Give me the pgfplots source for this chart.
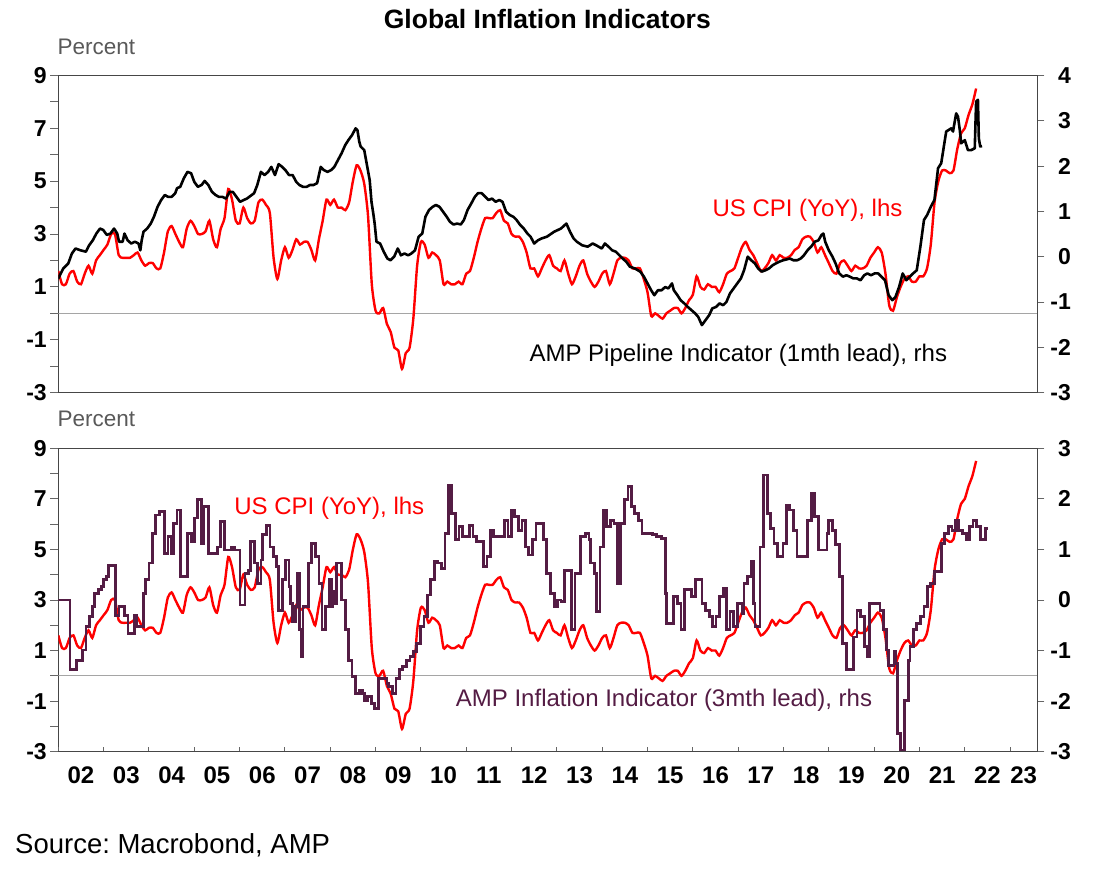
\documentclass[border=0pt]{standalone}
\usepackage{fontspec}
\setmainfont{Liberation Sans}
\usepackage{pgfplots}
\usepackage{pgfplotstable}
\pgfplotsset{compat=1.18}
\frenchspacing
\definecolor{cpired}{RGB}{255,0,0}
\definecolor{amppurple}{RGB}{84,28,68}
\definecolor{zerogray}{RGB}{165,165,165}
\definecolor{axgray}{RGB}{70,70,70}
\definecolor{pctgray}{RGB}{89,89,89}

\pgfplotstableread{
x y
2002.000 1.6
2002.083 1.1
2002.167 1.1
2002.250 1.5
2002.333 1.6
2002.417 1.2
2002.500 1.1
2002.583 1.5
2002.667 1.8
2002.750 1.5
2002.833 2.0
2002.917 2.2
2003.000 2.4
2003.083 2.6
2003.167 3.0
2003.250 3.0
2003.333 2.2
2003.417 2.1
2003.500 2.1
2003.583 2.1
2003.667 2.2
2003.750 2.3
2003.833 2.0
2003.917 1.8
2004.000 1.9
2004.083 1.9
2004.167 1.7
2004.250 1.7
2004.333 2.3
2004.417 3.1
2004.500 3.3
2004.583 3.0
2004.667 2.7
2004.750 2.5
2004.833 3.2
2004.917 3.5
2005.000 3.3
2005.083 3.0
2005.167 3.0
2005.250 3.1
2005.333 3.5
2005.417 2.8
2005.500 2.5
2005.583 3.2
2005.667 3.6
2005.750 4.7
2005.833 4.3
2005.917 3.5
2006.000 3.4
2006.083 4.0
2006.167 3.6
2006.250 3.4
2006.333 3.5
2006.417 4.2
2006.500 4.3
2006.583 4.1
2006.667 3.8
2006.750 2.1
2006.833 1.3
2006.917 2.0
2007.000 2.5
2007.083 2.1
2007.167 2.4
2007.250 2.8
2007.333 2.6
2007.417 2.7
2007.500 2.7
2007.583 2.4
2007.667 2.0
2007.750 2.8
2007.833 3.5
2007.917 4.3
2008.000 4.1
2008.083 4.3
2008.167 4.0
2008.250 4.0
2008.333 3.9
2008.417 4.2
2008.500 5.0
2008.583 5.6
2008.667 5.4
2008.750 4.9
2008.833 3.7
2008.917 1.1
2009.000 0.1
2009.083 0.0
2009.167 0.2
2009.250 -0.4
2009.333 -0.7
2009.417 -1.3
2009.500 -1.4
2009.583 -2.1
2009.667 -1.5
2009.750 -1.3
2009.833 -0.2
2009.917 1.8
2010.000 2.7
2010.083 2.6
2010.167 2.1
2010.250 2.3
2010.333 2.2
2010.417 2.0
2010.500 1.1
2010.583 1.2
2010.667 1.1
2010.750 1.1
2010.833 1.2
2010.917 1.1
2011.000 1.5
2011.083 1.6
2011.167 2.1
2011.250 2.7
2011.333 3.2
2011.417 3.6
2011.500 3.6
2011.583 3.6
2011.667 3.8
2011.750 3.9
2011.833 3.5
2011.917 3.4
2012.000 3.0
2012.083 2.9
2012.167 2.9
2012.250 2.7
2012.333 2.3
2012.417 1.7
2012.500 1.7
2012.583 1.4
2012.667 1.7
2012.750 2.0
2012.833 2.2
2012.917 1.8
2013.000 1.7
2013.083 1.6
2013.167 2.0
2013.250 1.5
2013.333 1.1
2013.417 1.4
2013.500 1.8
2013.583 2.0
2013.667 1.5
2013.750 1.2
2013.833 1.0
2013.917 1.2
2014.000 1.5
2014.083 1.6
2014.167 1.1
2014.250 1.5
2014.333 2.0
2014.417 2.1
2014.500 2.1
2014.583 2.0
2014.667 1.7
2014.750 1.7
2014.833 1.7
2014.917 1.3
2015.000 0.8
2015.083 -0.1
2015.167 0.0
2015.250 -0.1
2015.333 -0.2
2015.417 0.0
2015.500 0.1
2015.583 0.2
2015.667 0.2
2015.750 0.0
2015.833 0.2
2015.917 0.5
2016.000 0.7
2016.083 1.4
2016.167 1.0
2016.250 0.9
2016.333 1.1
2016.417 1.0
2016.500 1.0
2016.583 0.8
2016.667 1.1
2016.750 1.5
2016.833 1.6
2016.917 1.7
2017.000 2.1
2017.083 2.5
2017.167 2.7
2017.250 2.4
2017.333 2.2
2017.417 1.9
2017.500 1.6
2017.583 1.7
2017.667 1.9
2017.750 2.2
2017.833 2.0
2017.917 2.2
2018.000 2.1
2018.083 2.1
2018.167 2.2
2018.250 2.4
2018.333 2.5
2018.417 2.8
2018.500 2.9
2018.583 2.9
2018.667 2.7
2018.750 2.3
2018.833 2.5
2018.917 2.2
2019.000 1.9
2019.083 1.6
2019.167 1.5
2019.250 1.9
2019.333 2.0
2019.417 1.8
2019.500 1.6
2019.583 1.8
2019.667 1.7
2019.750 1.7
2019.833 1.8
2019.917 2.1
2020.000 2.3
2020.083 2.5
2020.167 2.3
2020.250 1.5
2020.333 0.3
2020.417 0.1
2020.500 0.6
2020.583 1.0
2020.667 1.3
2020.750 1.4
2020.833 1.2
2020.917 1.2
2021.000 1.4
2021.083 1.4
2021.167 1.7
2021.250 2.6
2021.333 4.2
2021.417 5.0
2021.500 5.4
2021.583 5.4
2021.667 5.3
2021.750 5.4
2021.833 6.2
2021.917 6.8
2022.000 7.0
2022.083 7.5
2022.167 7.9
2022.250 8.5
}\cpidata

\pgfplotstableread{
x y
2002.00 -0.48
2002.11 -0.26
2002.22 -0.15
2002.30 0.07
2002.38 0.18
2002.49 0.14
2002.61 0.11
2002.68 0.25
2002.76 0.36
2002.84 0.51
2002.92 0.62
2002.99 0.59
2003.07 0.48
2003.15 0.51
2003.23 0.62
2003.30 0.51
2003.34 0.33
2003.42 0.33
2003.46 0.51
2003.53 0.36
2003.61 0.29
2003.69 0.33
2003.77 0.29
2003.81 0.14
2003.84 0.36
2003.88 0.55
2003.96 0.62
2004.04 0.73
2004.11 0.88
2004.19 1.10
2004.27 1.25
2004.35 1.36
2004.42 1.32
2004.50 1.32
2004.58 1.40
2004.62 1.51
2004.69 1.54
2004.77 1.73
2004.85 1.87
2004.93 1.84
2005.00 1.65
2005.08 1.54
2005.16 1.58
2005.23 1.67
2005.31 1.58
2005.39 1.43
2005.47 1.36
2005.54 1.32
2005.62 1.32
2005.70 1.28
2005.78 1.43
2005.85 1.43
2005.93 1.32
2006.01 1.21
2006.09 1.25
2006.16 1.28
2006.24 1.34
2006.32 1.40
2006.39 1.58
2006.47 1.87
2006.55 1.80
2006.63 1.87
2006.70 1.98
2006.78 1.80
2006.86 2.04
2006.94 1.98
2007.01 1.91
2007.09 1.80
2007.17 1.80
2007.25 1.65
2007.32 1.58
2007.40 1.54
2007.48 1.54
2007.55 1.58
2007.63 1.58
2007.71 1.62
2007.79 1.98
2007.86 1.91
2007.94 1.87
2008.02 1.91
2008.09 1.98
2008.17 2.13
2008.25 2.28
2008.33 2.46
2008.40 2.57
2008.48 2.68
2008.56 2.83
2008.60 2.79
2008.64 2.54
2008.67 2.43
2008.75 2.35
2008.79 2.13
2008.87 1.69
2008.91 1.21
2008.95 0.95
2008.98 0.73
2009.02 0.33
2009.10 0.29
2009.18 0.11
2009.26 -0.04
2009.33 -0.08
2009.41 0.00
2009.49 0.18
2009.56 0.03
2009.64 0.07
2009.72 0.03
2009.79 0.07
2009.87 0.14
2009.95 0.44
2010.03 0.51
2010.10 0.88
2010.18 1.03
2010.26 1.10
2010.33 1.14
2010.41 1.10
2010.49 0.99
2010.57 0.88
2010.64 0.77
2010.72 0.71
2010.80 0.73
2010.88 0.71
2010.95 0.81
2011.03 1.03
2011.11 1.17
2011.19 1.32
2011.26 1.40
2011.34 1.40
2011.42 1.32
2011.49 1.25
2011.57 1.28
2011.65 1.21
2011.73 1.25
2011.80 1.21
2011.88 0.99
2011.96 0.92
2012.04 0.88
2012.11 0.81
2012.19 0.70
2012.27 0.62
2012.35 0.51
2012.42 0.44
2012.50 0.29
2012.58 0.36
2012.66 0.40
2012.78 0.44
2012.94 0.55
2013.09 0.62
2013.21 0.73
2013.29 0.55
2013.37 0.40
2013.44 0.33
2013.56 0.25
2013.68 0.22
2013.79 0.29
2013.87 0.25
2013.99 0.18
2014.06 0.29
2014.14 0.22
2014.22 0.14
2014.30 0.11
2014.38 0.03
2014.45 -0.04
2014.53 -0.11
2014.61 -0.22
2014.72 -0.26
2014.84 -0.33
2014.92 -0.44
2015.00 -0.59
2015.08 -0.74
2015.15 -0.85
2015.23 -0.74
2015.31 -0.74
2015.39 -0.67
2015.46 -0.70
2015.54 -0.59
2015.58 -0.74
2015.66 -0.85
2015.73 -0.96
2015.81 -1.03
2015.89 -1.11
2015.97 -1.18
2016.05 -1.25
2016.12 -1.33
2016.20 -1.51
2016.28 -1.40
2016.36 -1.29
2016.43 -1.14
2016.51 -1.11
2016.59 -1.03
2016.67 -1.07
2016.74 -1.00
2016.82 -0.81
2016.90 -0.70
2016.98 -0.59
2017.06 -0.48
2017.13 -0.30
2017.21 0.00
2017.29 -0.08
2017.37 -0.15
2017.44 -0.26
2017.52 -0.33
2017.60 -0.30
2017.68 -0.26
2017.76 -0.19
2017.83 -0.15
2017.91 -0.11
2017.99 -0.08
2018.07 -0.06
2018.14 -0.04
2018.22 -0.08
2018.30 -0.08
2018.38 -0.04
2018.45 0.03
2018.53 0.14
2018.61 0.22
2018.69 0.33
2018.77 0.36
2018.84 0.48
2018.88 0.51
2018.92 0.33
2019.00 0.14
2019.08 0.00
2019.15 -0.15
2019.23 -0.37
2019.31 -0.44
2019.39 -0.41
2019.46 -0.44
2019.54 -0.48
2019.62 -0.48
2019.70 -0.52
2019.78 -0.41
2019.85 -0.37
2019.93 -0.41
2020.01 -0.37
2020.09 -0.37
2020.16 -0.44
2020.24 -0.52
2020.32 -0.85
2020.40 -0.96
2020.47 -0.89
2020.55 -0.67
2020.63 -0.37
2020.71 -0.52
2020.79 -0.44
2020.86 -0.37
2020.94 -0.30
2021.02 0.22
2021.10 0.81
2021.17 0.92
2021.25 1.10
2021.33 1.25
2021.41 1.95
2021.48 2.06
2021.59 2.76
2021.70 2.83
2021.74 2.76
2021.81 3.16
2021.85 3.09
2021.89 2.79
2021.92 2.50
2022.00 2.57
2022.07 2.35
2022.14 2.35
2022.22 2.39
2022.25 3.42
2022.29 3.46
2022.31 2.61
2022.34 2.43
2022.38 2.44
}\pipedata

\pgfplotstableread{
x y
2002.00 0.00
2002.26 -1.38
2002.41 -1.19
2002.53 -0.99
2002.61 -0.53
2002.69 -0.33
2002.76 -0.13
2002.80 0.13
2002.88 0.20
2002.96 0.26
2002.99 0.40
2003.07 0.46
2003.11 0.69
2003.26 -0.30
2003.34 -0.13
2003.46 -0.30
2003.54 -0.66
2003.69 -0.30
2003.73 -0.53
2003.88 0.13
2003.92 0.40
2004.00 0.73
2004.08 1.32
2004.15 1.68
2004.23 1.75
2004.35 0.92
2004.42 1.25
2004.50 0.92
2004.54 1.52
2004.62 1.78
2004.69 0.46
2004.85 1.32
2004.93 1.15
2005.00 1.62
2005.08 1.98
2005.16 1.12
2005.20 1.85
2005.31 0.92
2005.51 1.05
2005.58 1.55
2005.66 0.99
2005.82 1.05
2005.89 0.99
2006.01 -0.10
2006.12 0.53
2006.20 0.59
2006.24 1.15
2006.32 0.73
2006.39 0.33
2006.47 0.79
2006.51 1.29
2006.59 1.48
2006.67 1.05
2006.74 0.86
2006.82 0.66
2006.86 -0.20
2006.94 0.40
2007.01 0.79
2007.09 0.26
2007.13 -0.07
2007.17 -0.43
2007.24 -0.13
2007.28 0.53
2007.32 -0.59
2007.36 -1.12
2007.40 -0.13
2007.52 0.73
2007.59 1.12
2007.67 0.86
2007.75 0.33
2007.82 -0.59
2007.90 -0.13
2007.98 0.40
2008.02 -0.13
2008.06 0.17
2008.09 -0.07
2008.13 0.73
2008.25 0.00
2008.33 -0.59
2008.40 -1.19
2008.48 -1.52
2008.56 -1.85
2008.64 -1.78
2008.71 -1.85
2008.75 -1.98
2008.83 -1.91
2008.91 -2.04
2008.98 -2.14
2009.06 -1.55
2009.25 -1.65
2009.29 -1.71
2009.37 -1.85
2009.45 -1.55
2009.52 -1.38
2009.60 -1.32
2009.68 -1.19
2009.76 -1.12
2009.83 -1.02
2009.91 -0.86
2009.99 -0.53
2010.07 -0.33
2010.14 0.10
2010.22 0.40
2010.30 0.76
2010.37 0.73
2010.45 0.63
2010.53 1.32
2010.61 2.27
2010.68 1.71
2010.76 1.19
2010.84 1.45
2010.92 1.25
2011.07 1.48
2011.15 1.25
2011.22 1.15
2011.38 0.66
2011.46 0.86
2011.53 1.38
2011.61 1.25
2011.84 1.58
2011.92 1.25
2012.00 1.78
2012.07 1.65
2012.15 1.38
2012.23 1.58
2012.31 1.05
2012.38 0.89
2012.46 1.19
2012.54 1.52
2012.70 1.19
2012.78 0.53
2012.86 0.13
2012.94 -0.13
2013.02 0.00
2013.09 -0.03
2013.17 0.59
2013.33 -0.59
2013.40 0.53
2013.52 1.25
2013.64 1.32
2013.71 1.19
2013.75 0.73
2013.83 0.53
2013.87 -0.23
2013.95 1.05
2014.03 1.78
2014.10 1.45
2014.18 1.58
2014.26 1.52
2014.34 0.33
2014.41 1.52
2014.49 1.98
2014.57 2.24
2014.65 1.85
2014.72 1.71
2014.80 1.58
2014.88 1.32
2015.11 1.29
2015.19 1.25
2015.31 1.22
2015.39 0.13
2015.42 -0.46
2015.58 0.07
2015.66 -0.07
2015.74 -0.59
2015.81 0.20
2015.97 0.07
2016.05 0.40
2016.20 -0.07
2016.28 -0.20
2016.36 -0.33
2016.43 -0.53
2016.51 -0.33
2016.59 0.07
2016.67 0.23
2016.75 -0.59
2016.82 -0.23
2016.90 -0.53
2016.98 -0.07
2017.09 -0.26
2017.13 0.33
2017.21 0.46
2017.29 0.76
2017.33 -0.07
2017.37 -0.53
2017.48 1.05
2017.56 2.47
2017.64 1.71
2017.72 1.42
2017.79 1.12
2017.87 0.86
2017.99 1.12
2018.07 1.88
2018.14 1.78
2018.22 1.38
2018.30 0.86
2018.53 1.58
2018.61 2.11
2018.69 1.65
2018.77 0.99
2018.96 1.32
2019.00 1.58
2019.08 1.38
2019.15 1.09
2019.23 0.46
2019.31 -0.86
2019.39 -1.38
2019.54 -0.73
2019.62 -0.20
2019.70 -0.33
2019.78 -0.92
2019.85 -1.12
2019.89 -0.07
2020.13 -0.20
2020.20 -0.59
2020.28 -0.99
2020.32 -1.29
2020.44 -1.02
2020.47 -1.25
2020.51 -2.64
2020.59 -2.97
2020.67 -1.98
2020.75 -1.19
2020.79 -0.92
2020.86 -0.59
2020.94 -0.46
2021.02 -0.33
2021.10 -0.13
2021.17 0.26
2021.25 0.33
2021.33 0.56
2021.48 1.12
2021.56 1.32
2021.64 1.45
2021.72 1.38
2021.80 1.58
2021.87 1.38
2021.95 1.32
2022.03 1.19
2022.11 1.45
2022.18 1.58
2022.26 1.45
2022.34 1.19
2022.46 1.42
2022.51 1.42
}\infldata

\pgfplotsset{
  panel/.style={
    scale only axis, width=979pt,
    xmin=2002, xmax=2023.6,
    axis line style={draw=axgray, line width=1.2pt},
    tick style={draw=black!60, line width=0.9pt},
    tick label style={font=\fontsize{23}{23}\selectfont\bfseries},
  },
  lhs/.style={
    ymin=-3, ymax=9,
    ytick={-3,-1,1,3,5,7,9},
    yticklabels={-3,-1,1,3,5,7,9},
    minor ytick={-2,0,2,4,6,8},
    ytick pos=left, xtick=\empty,
    tick align=outside, major tick length=8pt, minor tick length=8pt,
  },
  rhs/.style={
    axis y line*=right, axis x line=none,
    tick align=outside, major tick length=7pt,
    yticklabel style={text width=23pt, align=right},
  },
}

\begin{document}
\begin{tikzpicture}
\path[use as bounding box] (0,0) rectangle (1093pt,873pt);

% ---------- top panel ----------
\begin{axis}[panel, lhs, at={(58.3pt,480.3pt)}, anchor=south west, height=317.4pt]
\addplot[zerogray, line width=1.3pt] coordinates {(2002,0) (2023.6,0)};
\addplot[cpired, line width=2.4pt, smooth, tension=0.4] table[x=x,y=y]{\cpidata};
\end{axis}
\begin{axis}[panel, rhs, at={(58.3pt,480.3pt)}, anchor=south west, height=317.4pt,
  ymin=-3, ymax=4, ytick={-3,-2,-1,0,1,2,3,4}, yticklabels={-3,-2,-1,0,1,2,3,4}]
\addplot[black, line width=2.6pt, line join=round] table[x=x,y=y]{\pipedata};
\end{axis}

% ---------- bottom panel ----------
\begin{axis}[panel, lhs, at={(58.3pt,121.3pt)}, anchor=south west, height=303.4pt]
\addplot[zerogray, line width=1.3pt] coordinates {(2002,0) (2023.6,0)};
\addplot[cpired, line width=2.4pt, smooth, tension=0.4] table[x=x,y=y]{\cpidata};
\end{axis}
\begin{axis}[panel, rhs, at={(58.3pt,121.3pt)}, anchor=south west, height=303.4pt,
  ymin=-3, ymax=3, ytick={-3,-2,-1,0,1,2,3}, yticklabels={-3,-2,-1,0,1,2,3}]
\addplot[amppurple, line width=2.8pt, const plot] table[x=x,y=y]{\infldata};
\end{axis}
\begin{axis}[panel, at={(58.3pt,121.3pt)}, anchor=south west, height=303.4pt,
  ymin=0, ymax=1, axis y line=none, axis x line*=bottom,
  xtick={2002,2003,2004,2005,2006,2007,2008,2009,2010,2011,2012,2013,2014,2015,2016,2017,2018,2019,2020,2021,2022,2023},
  xticklabels={},
  tick align=inside, major tick length=5pt,
  extra x ticks={2002.5,2003.5,2004.5,2005.5,2006.5,2007.5,2008.5,2009.5,2010.5,2011.5,2012.5,2013.5,2014.5,2015.5,2016.5,2017.5,2018.5,2019.5,2020.5,2021.5,2022.5,2023.3},
  extra x tick labels={02,03,04,05,06,07,08,09,10,11,12,13,14,15,16,17,18,19,20,21,22,23},
  extra x tick style={major tick length=0pt, tick label style={font=\fontsize{24}{24}\selectfont\bfseries, yshift=-12pt}},
]
\end{axis}

% ---------- texts ----------
\node[anchor=base, inner sep=0, font=\fontsize{26.5}{26.5}\selectfont\bfseries] at (547.3pt,844.7pt) {Global Inflation Indicators};
\node[anchor=base west, inner sep=0, text=pctgray, font=\fontsize{22.5}{22.5}\selectfont] at (57.5pt,818pt) {Percent};
\node[anchor=base west, inner sep=0, text=pctgray, font=\fontsize{22.5}{22.5}\selectfont] at (57.5pt,446.3pt) {Percent};
\node[anchor=base, inner sep=0, text=cpired, font=\fontsize{24}{24}\selectfont] at (807.5pt,656.2pt) {US CPI (YoY), lhs};
\node[anchor=base, inner sep=0, text=black, font=\fontsize{24}{24}\selectfont] at (738.3pt,511.8pt) {AMP Pipeline Indicator (1mth lead), rhs};
\node[anchor=base, inner sep=0, text=cpired, font=\fontsize{24}{24}\selectfont] at (329.3pt,358.5pt) {US CPI (YoY), lhs};
\node[anchor=base, inner sep=0, text=amppurple, font=\fontsize{24}{24}\selectfont] at (664pt,166.2pt) {AMP Inflation Indicator (3mth lead), rhs};
\node[anchor=base west, inner sep=0, font=\fontsize{27.5}{27.5}\selectfont] at (15pt,19.7pt) {Source: Macrobond, AMP};
\end{tikzpicture}
\end{document}
